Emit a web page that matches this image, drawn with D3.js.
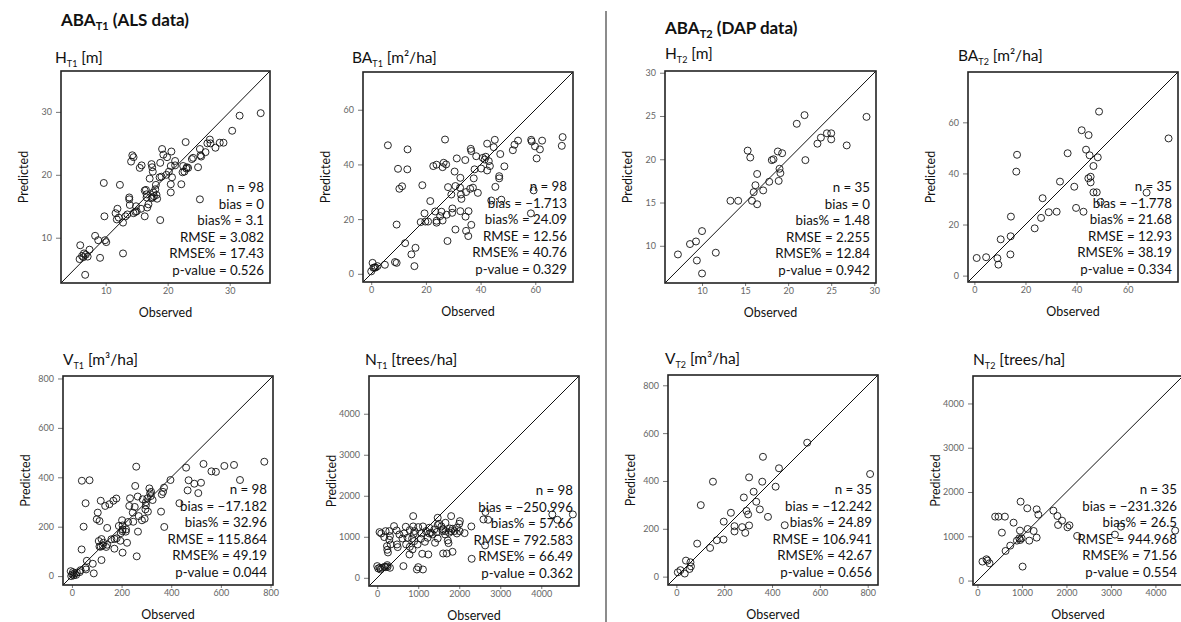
<!DOCTYPE html>
<html>
<head>
<meta charset="utf-8">
<script src="https://cdn.jsdelivr.net/npm/d3@7"></script>
<style>
  body { margin: 0; background: #fff; }
  svg { display: block; font-family: Lato, "Open Sans", sans-serif; }
</style>
</head>
<body>
<svg width="1181" height="622"></svg>
<script>
// ---- data ----
const hT1Obs  = [35.0,31.6,30.4,29.0,28.4,27.7,26.8,26.9,26.4,26.1,25.3,25.2,25.4,22.9,23.9,23.1,23.3,22.5,22.7,22.4,24.9,22.2,25.2,21.2,20.6,19.9,19.1,19.3,18.8,20.5,20.2,20.7,20.5,20.5,18.8,18.7,18.1,18.0,17.7,17.8,17.6,17.4,17.1,17.4,17.6,17.5,16.5,16.3,16.6,16.6,16.7,16.3,15.8,15.5,14.3,14.1,14.5,9.7,12.3,9.8,11.9,11.6,11.8,12.1,12.8,13.2,13.8,13.8,13.9,14.9,15.0,14.8,14.5,15.7,12.8,9.1,9.9,10.1,8.3,8.8,7.4,7.1,6.2,6.5,5.8,5.9,6.7,6.4,6.8,18.2,18.3,19.0,19.8,21.2,23.0,24.1,16.9,13.5];
const hT1Pred = [29.8,29.4,27.0,25.1,25.1,24.3,25.6,25.0,25.0,23.6,23.1,24.1,22.9,25.2,22.5,21.2,21.1,21.4,20.5,20.4,21.2,18.5,16.1,22.2,23.7,22.8,24.1,23.2,21.9,21.4,20.5,19.6,18.5,17.2,12.8,19.6,18.4,17.7,17.2,16.6,16.4,16.3,19.4,21.7,20.5,21.2,17.6,17.5,16.9,16.4,14.8,13.4,21.5,21.1,23.1,22.1,22.8,18.7,18.4,13.4,14.6,13.9,12.9,13.2,12.4,13.4,16.1,16.4,15.2,15.0,14.2,14.1,13.9,14.6,7.5,6.8,9.6,9.3,10.3,9.6,8.1,7.0,7.1,7.5,6.6,8.8,4.1,6.9,7.3,16.8,16.2,19.7,20.0,21.5,21.0,22.7,15.3,13.7];

const baT1Obs  = [6.1,27.0,13.3,9.8,13.2,10.3,11.3,18.7,9.3,21.6,19.5,19.8,18.1,20.8,23.4,23.9,23.9,25.7,25.2,26.1,27.6,26.1,27.4,26.5,23.9,22.7,28.1,29.3,29.7,30.8,30.5,31.3,32.6,32.5,32.8,33.0,32.6,34.5,35.6,34.7,34.4,36.4,36.6,37.2,36.2,37.5,37.8,38.4,39.0,40.2,40.8,41.9,41.5,43.0,43.4,42.4,42.4,45.2,44.8,47.2,46.8,46.8,45.4,43.9,47.6,48.7,51.8,52.4,53.7,58.5,58.7,59.9,61.7,60.5,59.4,58.4,62.5,70.0,69.7,34.7,30.8,27.9,35.5,36.6,12.4,16.2,14.7,15.8,8.7,9.3,5.0,2.3,1.6,0.8,0.5,0.0,1.2,29.6];
const baT1Pred = [47.0,49.1,45.5,38.4,38.2,31.1,32.0,32.4,18.0,26.6,22.1,19.1,18.9,19.1,22.8,18.7,19.4,22.7,21.1,19.5,21.6,39.0,40.0,40.6,39.9,39.4,31.7,29.0,23.9,32.1,37.4,42.2,35.1,31.5,29.0,27.4,22.9,20.9,22.9,29.9,41.6,45.7,44.9,31.5,31.1,34.9,38.2,43.0,29.6,38.5,42.4,42.8,41.8,41.2,39.4,37.8,47.6,49.0,46.3,43.8,35.7,34.9,31.8,26.8,27.1,39.3,45.2,47.2,48.7,49.0,48.4,46.6,45.5,42.2,30.5,22.1,48.7,50.0,46.8,15.7,16.2,12.0,13.8,17.9,11.2,9.5,7.1,2.8,4.3,4.0,3.3,2.8,2.3,2.2,4.0,0.9,2.3,22.3];

const vT1Obs  = [775,653,614,460,530,562,580,677,470,493,520,509,466,433,397,371,367,362,359,372,312,319,315,318,304,298,298,306,296,293,282,269,266,261,259,265,255,253,247,234,226,231,204,204,202,203,197,217,189,195,204,180,172,171,179,167,151,142,138,142,127,124,119,119,116,111,108,111,100,104,116,55,71,40,47,39,60,55,84,88,31,35,4,1,7,-3,11,17,-5,57,159,218,134,245,285,325,222,20];
const vT1Pred = [463,450,446,439,454,424,422,389,388,374,378,336,347,295,389,358,341,331,261,199,355,341,335,324,315,299,286,261,270,232,226,243,180,80,443,322,365,280,220,315,219,284,205,189,226,182,174,180,203,143,95,153,150,111,314,305,291,195,118,127,135,124,65,150,119,120,142,223,230,257,305,295,388,386,200,108,62,34,50,11,16,24,16,7,3,0,11,5,20,27,149,189,284,257,311,308,135,14];

const nT1Obs  = [4770,4270,4393,2639,2590,2705,2631,2295,2303,2131,2016,2000,2008,1943,1885,1836,1803,1770,1803,1664,1664,1721,1738,1836,1697,1607,1590,1566,1475,1475,1410,1475,1393,1352,1270,1230,1246,1098,1066,1082,1115,1000,910,893,902,861,787,795,705,852,795,877,877,697,656,615,541,484,500,475,410,295,311,295,238,246,262,205,172,98,57,0,66,123,180,254,311,246,82,639,967,1115,1000,1656,1607,1189,1311,1508,1754,1943,328,738,1164,1451,205,25,984,1270];
const nT1Pred = [1545,1545,1415,1602,1423,1415,789,1252,463,1089,1382,1317,1138,1081,1138,1195,1138,1203,1504,1341,1138,911,846,634,593,593,1138,1252,1285,959,854,1463,1179,1057,1081,976,569,585,951,1081,1252,1236,1138,1073,894,691,569,756,813,959,1163,1252,1504,1244,1081,959,1057,813,748,1154,1260,1138,1016,927,772,683,618,1138,992,1081,1114,285,244,244,268,268,244,309,203,285,203,203,260,1057,1179,1138,1098,1317,1098,1220,813,976,878,1114,260,228,813,1220];

const hT2Obs  = [29.1,21.9,21.0,23.4,23.8,24.5,25.0,25.0,26.8,22.0,19.3,18.8,18.1,18.3,19.0,19.1,18.9,17.8,17.1,15.3,15.6,16.4,16.2,16.0,15.8,16.4,13.3,14.2,10.0,9.3,8.6,7.2,9.4,11.6,10.0];
const hT2Pred = [24.9,25.1,24.1,21.8,22.5,23.0,23.0,22.3,21.6,19.9,20.7,20.9,19.9,20.0,18.9,18.4,17.5,17.4,16.4,21.0,20.2,18.3,17.0,16.2,15.2,14.8,15.2,15.2,11.7,10.5,10.2,9.0,8.3,9.2,6.8];

const baT2Obs  = [48.8,42.0,44.7,76.0,36.5,43.7,45.1,48.3,46.6,16.7,16.4,33.5,39.1,44.6,45.5,45.5,46.6,47.9,67.4,49.4,39.8,42.7,26.7,32.2,29.1,26.1,23.6,14.3,14.2,10.3,14.1,0.9,4.6,9.0,9.4];
const baT2Pred = [64.2,56.9,55.0,53.7,47.9,49.3,47.1,46.3,42.9,47.3,40.7,36.8,34.8,38.1,38.7,36.5,32.6,32.6,32.5,28.8,26.5,25.0,30.3,25.0,24.8,22.6,18.5,23.1,15.4,14.2,8.3,6.9,7.2,6.8,4.3];

const vT2Obs  = [810,547,429,362,415,359,304,323,334,349,383,453,282,293,300,304,288,275,228,198,197,243,243,169,153,102,141,87,40,59,61,55,35,17,6];
const vT2Pred = [429,560,453,501,376,397,415,355,313,281,250,215,331,275,260,214,183,207,267,230,155,211,189,152,397,299,120,138,67,60,43,32,13,27,18];

const nT2Obs  = [970,1120,1331,1368,1707,1797,1902,1812,2068,2023,2241,3090,3226,4444,398,474,617,812,549,955,1128,1263,1331,1165,993,962,887,737,632,1015,113,203,226,271,940];
const nT2Pred = [1782,1632,1609,1489,1579,1459,1353,1256,1248,1203,1008,1038,1218,1128,1444,1444,1444,1308,1083,1128,1165,1120,970,902,955,917,902,789,669,316,429,481,451,391,955];

const hT1Stats  = ["n = 98","bias = 0","bias% = 3.1","RMSE = 3.082","RMSE% = 17.43","p-value = 0.526"];
const baT1Stats = ["n = 98","bias = \u22121.713","bias% = 24.09","RMSE = 12.56","RMSE% = 40.76","p-value = 0.329"];
const vT1Stats  = ["n = 98","bias = \u221217.182","bias% = 32.96","RMSE = 115.864","RMSE% = 49.19","p-value = 0.044"];
const nT1Stats  = ["n = 98","bias = \u2212250.996","bias% = 57.66","RMSE = 792.583","RMSE% = 66.49","p-value = 0.362"];
const hT2Stats  = ["n = 35","bias = 0","bias% = 1.48","RMSE = 2.255","RMSE% = 12.84","p-value = 0.942"];
const baT2Stats = ["n = 35","bias = \u22121.778","bias% = 21.68","RMSE = 12.93","RMSE% = 38.19","p-value = 0.334"];
const vT2Stats  = ["n = 35","bias = \u221212.242","bias% = 24.89","RMSE = 106.941","RMSE% = 42.67","p-value = 0.656"];
const nT2Stats  = ["n = 35","bias = \u2212231.326","bias% = 26.5","RMSE = 944.968","RMSE% = 71.56","p-value = 0.554"];

const hT1Ticks = [10, 20, 30];
const hT2Ticks = [10, 15, 20, 25, 30];
const baTicks  = [0, 20, 40, 60];
const vTicks   = [0, 200, 400, 600, 800];
const nTicks   = [0, 1000, 2000, 3000, 4000];

// ---- layout ----
const svg = d3.select("svg");

const panels = [
  {name: "H",  sub: "T1", unit: " [m]",          obs: hT1Obs,  pred: hT1Pred,  stats: hT1Stats,  ticks: hT1Ticks, dom: [2.8, 36.5],   box: [61, 71, 209, 212],  tx: 55,  ty: 63},
  {name: "BA", sub: "T1", unit: " [m\u00b2/ha]",  obs: baT1Obs, pred: baT1Pred, stats: baT1Stats, ticks: baTicks,  dom: [-3, 73.8],    box: [363, 72, 210, 210], tx: 352, ty: 63},
  {name: "V",  sub: "T1", unit: " [m\u00b3/ha]",  obs: vT1Obs,  pred: vT1Pred,  stats: vT1Stats,  ticks: vTicks,   dom: [-36, 810],    box: [63, 376, 210, 209], tx: 63,  ty: 365},
  {name: "N",  sub: "T1", unit: " [trees/ha]",   obs: nT1Obs,  pred: nT1Pred,  stats: nT1Stats,  ticks: nTicks,   dom: [-200, 4920],  box: [369, 376, 210, 210],tx: 365, ty: 365},
  {name: "H",  sub: "T2", unit: " [m]",          obs: hT2Obs,  pred: hT2Pred,  stats: hT2Stats,  ticks: hT2Ticks, dom: [5.7, 30.2],   box: [665, 71, 211, 212], tx: 665, ty: 59},
  {name: "BA", sub: "T2", unit: " [m\u00b2/ha]",  obs: baT2Obs, pred: baT2Pred, stats: baT2Stats, ticks: baTicks,  dom: [-2.5, 79.7],  box: [968, 72, 210, 210], tx: 958, ty: 61},
  {name: "V",  sub: "T2", unit: " [m\u00b3/ha]",  obs: vT2Obs,  pred: vT2Pred,  stats: vT2Stats,  ticks: vTicks,   dom: [-35, 843],    box: [668, 375, 210, 210],tx: 665, ty: 364},
  {name: "N",  sub: "T2", unit: " [trees/ha]",   obs: nT2Obs,  pred: nT2Pred,  stats: nT2Stats,  ticks: nTicks,   dom: [-100, 4620],  box: [973, 376, 210, 209],tx: 973, ty: 365}
];

// section headers + divider
function header(x, y, sub, rest) {
  const t = svg.append("text").attr("x", x).attr("y", y)
    .attr("font-size", 17).attr("font-weight", "bold").attr("fill", "#111");
  t.append("tspan").text("ABA");
  t.append("tspan").attr("font-size", 11).attr("dy", 4).text(sub);
  t.append("tspan").attr("dy", -4).text(rest);
}
header(61, 26, "T1", " (ALS data)");
header(665, 34, "T2", " (DAP data)");

svg.append("line").attr("x1", 606).attr("x2", 606).attr("y1", 11).attr("y2", 622)
  .attr("stroke", "#666").attr("stroke-width", 1.5);

panels.forEach(function(p) {
  const [bx, by, bw, bh] = p.box;
  const x = d3.scaleLinear().domain(p.dom).range([bx, bx + bw]);
  const y = d3.scaleLinear().domain(p.dom).range([by + bh, by]);
  const g = svg.append("g");

  // panel title
  const t = g.append("text").attr("x", p.tx).attr("y", p.ty).attr("font-size", 15.5).attr("fill", "#111");
  t.append("tspan").text(p.name);
  t.append("tspan").attr("font-size", 9).attr("dy", 3.5).text(p.sub);
  t.append("tspan").attr("dy", -3.5).text(p.unit);

  // axes
  const fmt = d3.format("d");
  const ax = g.append("g").attr("transform", "translate(0," + (by + bh) + ")")
    .call(d3.axisBottom(x).tickValues(p.ticks).tickFormat(fmt).tickSize(3).tickPadding(2));
  const ay = g.append("g").attr("transform", "translate(" + bx + ",0)")
    .call(d3.axisLeft(y).tickValues(p.ticks).tickFormat(fmt).tickSize(5).tickPadding(4));
  [ax, ay].forEach(function(a) {
    a.select(".domain").remove();
    a.selectAll("line").attr("stroke", "#777");
    a.selectAll("text").attr("fill", "#666").attr("font-size", 9).attr("font-family", "Lato, sans-serif");
  });

  // 1:1 line
  const clipId = "clip" + bx + "_" + by;
  g.append("clipPath").attr("id", clipId).append("rect")
    .attr("x", bx).attr("y", by).attr("width", bw).attr("height", bh);
  g.append("line")
    .attr("x1", x(p.dom[0])).attr("y1", y(p.dom[0]))
    .attr("x2", x(p.dom[1])).attr("y2", y(p.dom[1]))
    .attr("stroke", "#111").attr("stroke-width", 1)
    .attr("clip-path", "url(#" + clipId + ")");

  // points
  const pts = p.obs.map(function(o, i) { return {o: o, p: p.pred[i]}; });
  g.append("g").selectAll("circle").data(pts).enter().append("circle")
    .attr("cx", function(d) { return x(d.o); })
    .attr("cy", function(d) { return y(d.p); })
    .attr("r", 3.5)
    .attr("fill", "none").attr("stroke", "#111").attr("stroke-width", 0.9);

  // box
  g.append("rect").attr("x", bx).attr("y", by).attr("width", bw).attr("height", bh)
    .attr("fill", "none").attr("stroke", "#222").attr("stroke-width", 1.6);

  // stats
  g.append("g").selectAll("text").data(p.stats).enter().append("text")
    .attr("x", bx + bw - 6)
    .attr("y", function(d, i) { return by + bh - 8.5 - (p.stats.length - 1 - i) * 16.5; })
    .attr("text-anchor", "end").attr("font-size", 13.3).attr("fill", "#111")
    .text(function(d) { return d; });

  // axis titles
  g.append("text").attr("x", bx + bw / 2).attr("y", by + bh + 34)
    .attr("text-anchor", "middle").attr("font-size", 12.5).attr("fill", "#111").text("Observed");
  g.append("text")
    .attr("transform", "translate(" + (bx - 33) + "," + (by + bh / 2) + ") rotate(-90)")
    .attr("text-anchor", "middle").attr("font-size", 12.5).attr("fill", "#111").text("Predicted");
});
</script>
</body>
</html>
